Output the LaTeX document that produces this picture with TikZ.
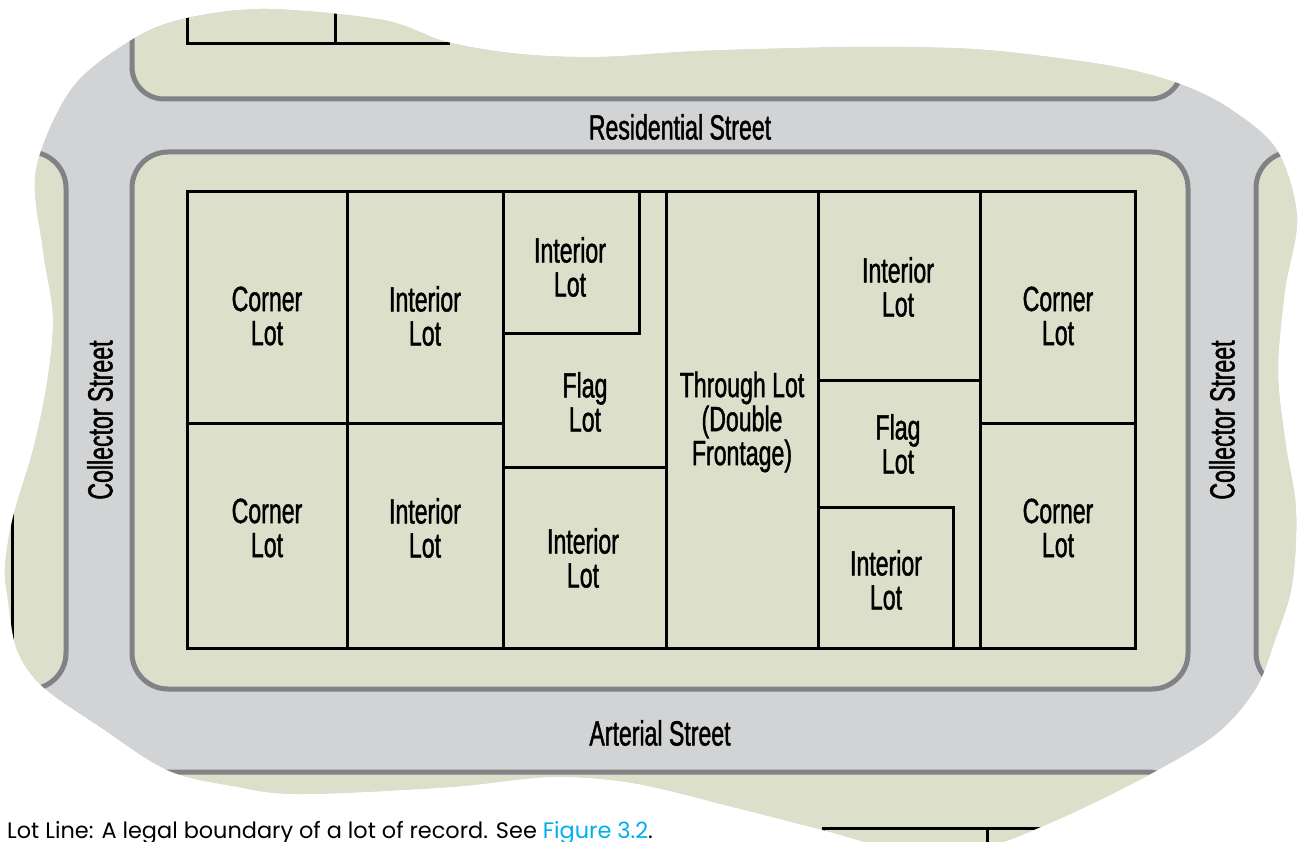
\documentclass[tikz,border=0pt]{standalone}
\usepackage{fontspec}
\newfontfamily\lblfont{Liberation Sans}[FakeStretch=0.66,FakeBold=1.2]
\newfontfamily\capfont{Poppins}
\definecolor{lotgreen}{RGB}{220,224,203}
\definecolor{streetgray}{RGB}{209,211,212}
\definecolor{curbgray}{RGB}{128,130,133}
\definecolor{linkblue}{RGB}{0,174,239}
\begin{document}
\begin{tikzpicture}[x=1pt,y=-1pt,
  block/.style={fill=lotgreen, draw=curbgray, line width=5pt},
  lotline/.style={draw=black, line width=3pt},
  lbl/.style={font=\lblfont\fontsize{35}{34}\selectfont, align=center, inner sep=0pt, text=black},
  caption/.style={font=\capfont\fontsize{22.4}{22}\selectfont, inner sep=0pt, anchor=base west}]
\useasboundingbox (0,0) rectangle (1308,842);
\begin{scope}
  \clip plot[smooth cycle, tension=0.55] coordinates {
    (36,170) (72,88) (133,39) (187,18) (267,9) (383,20) (447,42) (520,54) (600,57)
    (700,51) (850,47) (950,48) (1017,53) (1117,67) (1183,85) (1232,110) (1277,150)
    (1297,217) (1285,290) (1278,370) (1285,440) (1296,510) (1292,585) (1275,640)
    (1255,690) (1215,735) (1143,778) (1050,823) (975,850) (900,850) (823,830) (733,807)
    (633,783) (550,777) (450,787) (300,794) (233,786) (167,770) (100,727) (43,687)
    (17,650) (8,600) (5,567) (13,517) (33,450) (47,383) (53,317) (43,250)};
  \fill[streetgray] (-20,-20) rectangle (1330,880);
  % blocks
  \draw[block, rounded corners=32pt] (132,-200) rectangle (1182,99);
  \draw[block, rounded corners=36pt] (132,152) rectangle (1188,689);
  \draw[block, rounded corners=36pt] (-200,152) rectangle (66,689);
  \draw[block, rounded corners=36pt] (1256,152) rectangle (1500,689);
  \draw[block, rounded corners=34pt] (132,772) rectangle (1182,1100);
  % lot lines of neighbouring blocks
  \draw[lotline] (187,-50) -- (187,44) -- (450,44);
  \draw[lotline] (335,-50) -- (335,44);
  \draw[lotline] (12,192) -- (12,648);
  \draw[lotline] (823,900) -- (823,828) -- (1135,828);
  \draw[lotline] (987,828) -- (987,900);
  % street labels
  \node[lbl] (res) at (680,127) {Residential Street};
  \node[lbl] (art) at (660,733) {Arterial Street};
  \node[lbl, rotate=90] (colL) at (100,420) {Collector Street};
  \node[lbl, rotate=90] (colR) at (1222,420) {Collector Street};
\end{scope}
% lot lines of main block
\draw[lotline] (187,192) rectangle (1135,648);
\draw[lotline] (347,192) -- (347,648);
\draw[lotline] (503,192) -- (503,648);
\draw[lotline] (666,192) -- (666,648);
\draw[lotline] (818,192) -- (818,648);
\draw[lotline] (980,192) -- (980,648);
\draw[lotline] (187,423) -- (503,423);
\draw[lotline] (980,423) -- (1135,423);
\draw[lotline] (639,192) -- (639,333) -- (503,333);
\draw[lotline] (503,467) -- (666,467);
\draw[lotline] (818,380) -- (980,380);
\draw[lotline] (818,507) -- (953,507) -- (953,648);
% lot labels
\node[lbl] (c1) at (267,316) {Corner\\Lot};
\node[lbl] (i1) at (425,316) {Interior\\Lot};
\node[lbl] (i2) at (570,267) {Interior\\Lot};
\node[lbl] (f1) at (585,402) {Flag\\Lot};
\node[lbl] (i3) at (583,558) {Interior\\Lot};
\node[lbl] (th) at (742,422) {Through Lot\\(Double\\Frontage)};
\node[lbl] (i4) at (898,287) {Interior\\Lot};
\node[lbl] (f2) at (898,444) {Flag\\Lot};
\node[lbl] (i5) at (886,580) {Interior\\Lot};
\node[lbl] (c2) at (1058,316) {Corner\\Lot};
\node[lbl] (c3) at (267,528) {Corner\\Lot};
\node[lbl] (i6) at (425,528) {Interior\\Lot};
\node[lbl] (c4) at (1058,528) {Corner\\Lot};
% caption
\node[caption] (cap) at (7,838) {Lot Line: A legal boundary of a lot of record. See \textcolor{linkblue}{Figure 3.2}.};
\end{tikzpicture}
\end{document}
